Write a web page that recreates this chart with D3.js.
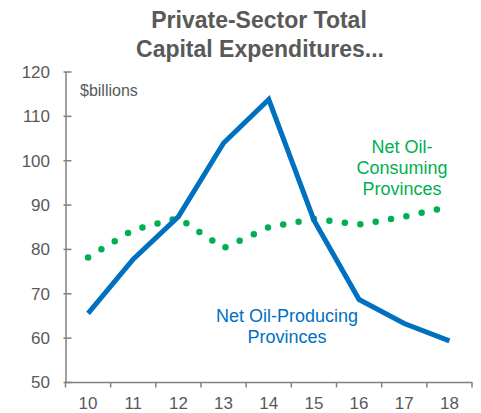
<!DOCTYPE html>
<html><head><meta charset="utf-8">
<script src="https://cdn.jsdelivr.net/npm/d3@7/dist/d3.min.js"></script>
<style>
body{margin:0;background:#fff;}
svg{display:block;font-family:"Liberation Sans",Arial,sans-serif;}
</style></head>
<body><svg id="c" width="481" height="413"></svg>
<script>
const years = ["10","11","12","13","14","15","16","17","18"];
const producing = [65.6, 77.8, 87.4, 104.0, 113.8, 86.6, 68.7, 63.3, 59.4];
const consuming = [78.2, 84.4, 87.1, 80.3, 85.0, 86.9, 85.6, 87.4, 89.6];
const yTicks = [50, 60, 70, 80, 90, 100, 110, 120];
const titleLines = ["Private-Sector Total", "Capital Expenditures..."];
const unitLabel = "$billions";
const consumingLabel = ["Net Oil-", "Consuming", "Provinces"];
const producingLabel = ["Net Oil-Producing", "Provinces"];

const svg = d3.select("#c");
const grey = "#595959", axisGrey = "#808080";
const blue = "#0070C0", green = "#00B050";

const x = d3.scaleBand().domain(years).range([65.5, 472]).padding(0);
const cx = d => x(d) + x.bandwidth()/2;
const y = d3.scaleLinear().domain([50, 120]).range([382.5, 72]);

// title
svg.append("text").attr("x", 259).attr("y", 28).attr("text-anchor","middle")
  .attr("font-size", 23).attr("font-weight","bold").attr("fill", grey).text(titleLines[0]);
svg.append("text").attr("x", 260).attr("y", 57).attr("text-anchor","middle")
  .attr("font-size", 23).attr("font-weight","bold").attr("fill", grey).text(titleLines[1]);

// y axis
const yAxis = d3.axisLeft(y).tickValues(yTicks).tickSize(0).tickPadding(16);
const gy = svg.append("g").attr("transform","translate(66,0)").call(yAxis);
gy.select(".domain").remove();
gy.selectAll("text").attr("font-size", 17).attr("fill", grey).attr("font-family","Liberation Sans, Arial, sans-serif");
svg.append("line").attr("x1",66).attr("x2",66).attr("y1",y(120)).attr("y2",y(50))
  .attr("stroke", axisGrey).attr("stroke-width",1.5);
svg.selectAll(".yt").data(yTicks).enter().append("line")
  .attr("x1",63.5).attr("x2",71.5).attr("y1",d=>y(d)).attr("y2",d=>y(d))
  .attr("stroke", axisGrey).attr("stroke-width",1.5);

// x axis
svg.append("line").attr("x1",65).attr("x2",472.5).attr("y1",y(50)).attr("y2",y(50))
  .attr("stroke", axisGrey).attr("stroke-width",1.5);
const bounds = years.map(d => x(d)).concat([x(years[years.length-1]) + x.bandwidth()]);
svg.selectAll(".xt").data(bounds).enter().append("line")
  .attr("x1",d=>d).attr("x2",d=>d).attr("y1",y(50)).attr("y2",y(50)+5)
  .attr("stroke", axisGrey).attr("stroke-width",1.5);
svg.selectAll(".xl").data(years).enter().append("text")
  .attr("x", d=>cx(d)).attr("y", 409).attr("text-anchor","middle")
  .attr("font-size",17).attr("fill",grey).text(d=>d);

// unit label
svg.append("text").attr("x",80).attr("y",96).attr("font-size",16).attr("fill",grey).text(unitLabel);

// lines
const line = d3.line().x((d,i)=>cx(years[i])).y(d=>y(d));
svg.append("path").datum(consuming).attr("d", line).attr("fill","none")
  .attr("stroke", green).attr("stroke-width", 6.5).attr("stroke-linecap","round")
  .attr("stroke-dasharray","0 15.6");
svg.append("path").datum(producing).attr("d", line).attr("fill","none")
  .attr("stroke", blue).attr("stroke-width", 5).attr("stroke-linejoin","miter");

// labels
const cl = svg.append("text").attr("text-anchor","middle").attr("font-size",18).attr("fill",green);
consumingLabel.forEach((t,i)=> cl.append("tspan").attr("x",402).attr("y",153 + i*21).text(t));
const pl = svg.append("text").attr("text-anchor","middle").attr("font-size",18).attr("fill",blue);
producingLabel.forEach((t,i)=> pl.append("tspan").attr("x",287).attr("y",322 + i*21).text(t));
</script></body></html>
